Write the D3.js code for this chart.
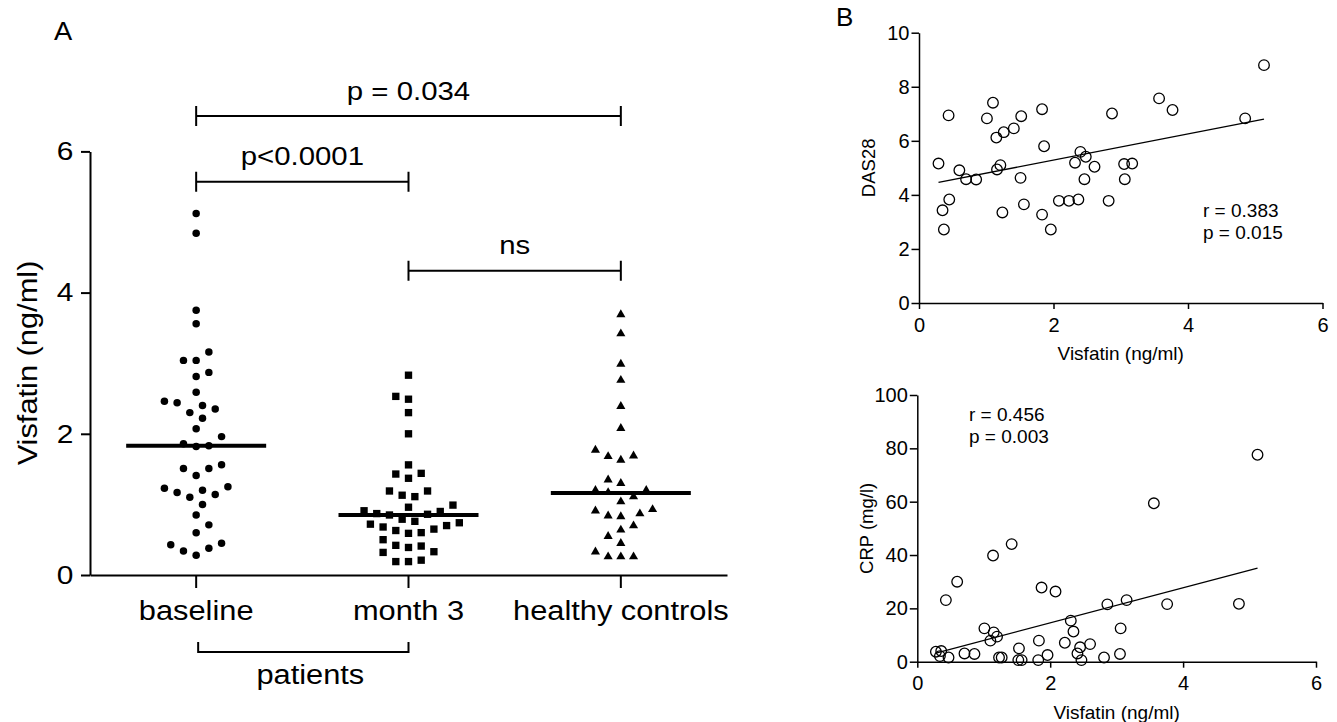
<!DOCTYPE html>
<html><head><meta charset="utf-8">
<script src="https://cdn.jsdelivr.net/npm/d3@7"></script>
<style>
body{margin:0;background:#fff}
text{font-family:"Liberation Sans",Arial,Helvetica,sans-serif;fill:#000}
</style>
</head><body>
<svg id="c" width="1337" height="722" xmlns="http://www.w3.org/2000/svg"></svg>
<script>
// ---------------- DATA ----------------
const groups = ["baseline", "month 3", "healthy controls"];
const baselineValues = [5.12, 4.84, 3.75, 3.56, 3.16, 3.04, 3.04, 2.87, 2.81, 2.59,
  2.44, 2.46, 2.35, 2.40, 2.30, 2.22, 2.07, 1.96, 1.83, 1.82, 1.86,
  1.51, 1.41, 1.51, 1.56, 1.25, 1.20, 1.14, 1.00, 1.10, 1.17, 1.23,
  0.85, 0.71, 0.60, 0.45, 0.38, 0.28, 0.34, 0.43];
const month3Values = [2.83, 2.49, 2.53, 2.30, 2.00, 1.56, 1.44, 1.37, 1.43,
  1.13, 1.19, 1.19, 1.11, 0.99, 0.91, 0.87, 0.85, 0.79, 0.86, 0.90, 0.96,
  0.76, 0.72, 0.68, 0.63, 0.59, 0.60, 0.65, 0.70, 0.74,
  0.50, 0.41, 0.39, 0.42, 0.32, 0.33, 0.21, 0.19, 0.19];
const controlValues = [3.70, 3.43, 3.00, 2.77, 2.40, 2.09, 1.78, 1.69, 1.64, 1.70,
  1.31, 1.36, 1.21, 1.12, 1.05, 1.18, 1.21, 0.94, 0.88, 0.84, 0.85, 0.92,
  0.65, 0.71, 0.56, 0.46, 0.27, 0.27, 0.27, 0.34];
const groupMedians = [1.83, 0.85, 1.16];
const yTicksA = [0, 2, 4, 6];
const comparisonFrom = [0, 0, 1];
const comparisonTo = [2, 1, 2];
const comparisonLabels = ["p = 0.034", "p<0.0001", "ns"];

// Panel B
const visfatinDas = [0.29, 0.35, 0.37, 0.44, 0.45, 0.60, 0.70, 0.85, 1.01, 1.10,
  1.15, 1.16, 1.21, 1.26, 1.24, 1.41, 1.52, 1.51, 1.56, 1.83,
  1.86, 1.83, 1.96, 2.08, 2.23, 2.32, 2.37, 2.40, 2.48, 2.46,
  2.61, 2.87, 2.82, 3.05, 3.17, 3.06, 3.57, 3.77, 4.85, 5.13];
const das28 = [5.16, 3.43, 2.72, 6.94, 3.83, 4.91, 4.58, 4.57, 6.83, 7.41,
  6.12, 4.94, 5.10, 6.32, 3.35, 6.46, 6.91, 4.63, 3.65, 7.17,
  5.80, 3.27, 2.72, 3.78, 3.78, 5.19, 3.83, 5.59, 5.41, 4.58,
  5.04, 7.01, 3.78, 5.14, 5.16, 4.58, 7.57, 7.14, 6.83, 8.80];
const visfatinCrp = [0.28, 0.36, 0.34, 0.47, 0.43, 0.60, 0.71, 0.86, 1.01, 1.10,
  1.15, 1.20, 1.14, 1.23, 1.27, 1.42, 1.53, 1.52, 1.57, 1.83,
  1.82, 1.96, 1.87, 2.08, 2.22, 2.31, 2.35, 2.45, 2.41, 2.47,
  2.60, 2.81, 2.86, 3.06, 3.05, 3.15, 3.56, 3.76, 4.84, 5.12];
const crp = [3.75, 4.0, 2.1, 1.6, 23.1, 30.0, 3.1, 2.9, 12.5, 7.9,
  11.0, 9.4, 39.8, 1.6, 1.6, 44.1, 5.0, 0.6, 0.6, 7.9,
  0.6, 2.5, 27.8, 26.3, 7.1, 15.4, 11.3, 5.4, 3.1, 0.6,
  6.6, 1.6, 21.5, 12.5, 2.9, 23.1, 59.4, 21.6, 21.7, 77.6];
const xTicksB = [0, 2, 4, 6];
const yTicksDas = [0, 2, 4, 6, 8, 10];
const yTicksCrp = [0, 20, 40, 60, 80, 100];
const statsDas = ["r = 0.383", "p = 0.015"];
const statsCrp = ["r = 0.456", "p = 0.003"];

// ---------------- DRAW ----------------
const svg = d3.select("#c");
const FONT = '"Liberation Sans",Arial,Helvetica,sans-serif';
const fmt = d3.format("d");

function stretchedText(g, x, y, str, size, sx, anchor, rot) {
  return g.append("text")
    .attr("transform", `translate(${x},${y})` + (rot ? ` rotate(${rot})` : "") + ` scale(${sx},1)`)
    .attr("text-anchor", anchor || "middle")
    .attr("font-size", size)
    .text(str);
}

// ----- Panel A -----
const gA = svg.append("g");
const xA = d3.scaleBand().domain(groups).range([90, 727]).padding(0);
const cx = d => xA(d) + xA.bandwidth() / 2;
const yA = d3.scaleLinear().domain([0, 6]).range([575, 151.4]);

const yAxisA = gA.append("g").attr("transform", "translate(90,0)")
  .call(d3.axisLeft(yA).tickValues(yTicksA).tickFormat(fmt).tickSize(9).tickSizeOuter(0))
  .attr("font-family", FONT).attr("font-size", 26);
yAxisA.selectAll("path,line").attr("stroke", "#000").attr("stroke-width", 2);
yAxisA.selectAll(".tick text").attr("x", -14.5).attr("transform", "scale(1.15,1)").attr("fill", "#000");

const xAxisA = gA.append("g").attr("transform", "translate(0,575)")
  .call(d3.axisBottom(xA).tickSize(13).tickSizeOuter(0))
  .attr("font-family", FONT).attr("font-size", 28);
xAxisA.selectAll("path,line").attr("stroke", "#000").attr("stroke-width", 2);
xAxisA.selectAll(".tick text").attr("y", 45).attr("dy", 0).attr("transform", "scale(1.1,1)").attr("fill", "#000");

stretchedText(gA, 37, 363, "Visfatin (ng/ml)", 28, 1.1, "middle", -90);

// patients bracket
gA.append("path")
  .attr("d", `M${cx(groups[0]) + 2},642V652H${cx(groups[1])}V642`)
  .attr("fill", "none").attr("stroke", "#000").attr("stroke-width", 2);
stretchedText(gA, (cx(groups[0]) + cx(groups[1])) / 2 + 8, 684, "patients", 28, 1.1, "middle");

// beeswarm
function swarm(values, step, minDist) {
  const order = values.map((v, i) => i).sort((a, b) => values[a] - values[b]);
  const placed = [];
  const offs = new Array(values.length);
  const cands = [0];
  for (let k = 1; k < 20; k++) cands.push(k * step / 2, -k * step / 2);
  order.forEach((i, n) => {
    const y = yA(values[i]);
    for (const c0 of cands) {
      const c = (n % 2) ? -c0 : c0;
      if (placed.every(p => Math.hypot(p.x - c, p.y - y) >= minDist)) {
        offs[i] = c; placed.push({ x: c, y }); break;
      }
    }
  });
  return offs;
}

const seriesA = [baselineValues, month3Values, controlValues];
const symbols = [d3.symbol(d3.symbolCircle, 44), d3.symbol(d3.symbolSquare, 54), d3.symbol(d3.symbolTriangle, 36)];
seriesA.forEach((vals, gi) => {
  const offs = swarm(vals, 12.7, 12.2);
  gA.append("g").selectAll("path").data(vals).join("path")
    .attr("d", symbols[gi])
    .attr("transform", (d, i) => `translate(${cx(groups[gi]) + offs[i]},${yA(d) + (gi === 2 ? 0.8 : 0)})`)
    .attr("fill", "#000");
});

// medians
gA.append("g").selectAll("line").data(groupMedians).join("line")
  .attr("x1", (d, i) => cx(groups[i]) - 70).attr("x2", (d, i) => cx(groups[i]) + 70)
  .attr("y1", d => yA(d)).attr("y2", d => yA(d))
  .attr("stroke", "#000").attr("stroke-width", 4);

// comparison brackets
const bracketLevels = [116, 181.7, 270.7];
comparisonLabels.forEach((lab, k) => {
  const x1 = cx(groups[comparisonFrom[k]]), x2 = cx(groups[comparisonTo[k]]), y = bracketLevels[k];
  gA.append("path")
    .attr("d", `M${x1},${y - 10}V${y + 10}M${x1},${y}H${x2}M${x2},${y - 10}V${y + 10}`)
    .attr("fill", "none").attr("stroke", "#000").attr("stroke-width", 2);
  stretchedText(gA, (x1 + x2) / 2, y - 16.5, lab, 26, 1.13, "middle");
});

stretchedText(gA, 54, 40, "A", 26, 1.05, "start");

// ----- Panel B -----
function scatter(g, xs, ys, xRange, yDomain, yRange, yTicks, yLabel, stats, statX, statY, xLabelY) {
  const x = d3.scaleLinear().domain([0, 6]).range(xRange);
  const y = d3.scaleLinear().domain(yDomain).range(yRange);
  const ay = g.append("g").attr("transform", `translate(${xRange[0]},0)`)
    .call(d3.axisLeft(y).tickValues(yTicks).tickFormat(fmt).tickSize(7.5).tickSizeOuter(0))
    .attr("font-family", FONT).attr("font-size", 20);
  ay.selectAll("path,line").attr("stroke", "#000").attr("stroke-width", 1.5);
  ay.selectAll(".tick text").attr("x", -9.5).attr("fill", "#000");
  const ax = g.append("g").attr("transform", `translate(0,${yRange[0]})`)
    .call(d3.axisBottom(x).tickValues(xTicksB).tickFormat(fmt).tickSize(6).tickSizeOuter(0))
    .attr("font-family", FONT).attr("font-size", 20);
  ax.selectAll("path,line").attr("stroke", "#000").attr("stroke-width", 1.5);
  ax.selectAll(".tick text").attr("y", 28.5).attr("dy", 0).attr("fill", "#000");

  g.append("text").attr("transform", `translate(${xRange[0] - 44},${(yRange[0] + yRange[1]) / 2}) rotate(-90)`)
    .attr("text-anchor", "middle").attr("font-size", 18.5).text(yLabel);
  g.append("text").attr("x", (xRange[0] + xRange[1]) / 2).attr("y", xLabelY)
    .attr("text-anchor", "middle").attr("font-size", 19).text("Visfatin (ng/ml)");

  g.append("g").selectAll("circle").data(xs).join("circle")
    .attr("cx", d => x(d)).attr("cy", (d, i) => y(ys[i])).attr("r", 5.3)
    .attr("fill", "none").attr("stroke", "#000").attr("stroke-width", 1.3);

  // least-squares fit
  const mx = d3.mean(xs), my = d3.mean(ys);
  let sxy = 0, sxx = 0;
  xs.forEach((v, i) => { sxy += (v - mx) * (ys[i] - my); sxx += (v - mx) * (v - mx); });
  const b = sxy / sxx, a = my - b * mx;
  const [x0, x1] = d3.extent(xs);
  g.append("line").attr("x1", x(x0)).attr("x2", x(x1)).attr("y1", y(a + b * x0)).attr("y2", y(a + b * x1))
    .attr("stroke", "#000").attr("stroke-width", 1.3);

  g.append("text").attr("x", statX).attr("y", statY).attr("font-size", 19).text(stats[0]);
  g.append("text").attr("x", statX).attr("y", statY + 22).attr("font-size", 19).text(stats[1]);
}

const gB1 = svg.append("g");
scatter(gB1, visfatinDas, das28, [919, 1322.5], [0, 10], [303, 32.7], yTicksDas, "DAS28", statsDas, 1203, 217, 360);
const gB2 = svg.append("g");
scatter(gB2, visfatinCrp, crp, [917.3, 1316], [0, 100], [661.7, 395], yTicksCrp, "CRP (mg/l)", statsCrp, 969, 421, 719);

svg.append("text").attr("x", 836).attr("y", 26).attr("font-size", 26).text("B");
</script>
</body></html>
